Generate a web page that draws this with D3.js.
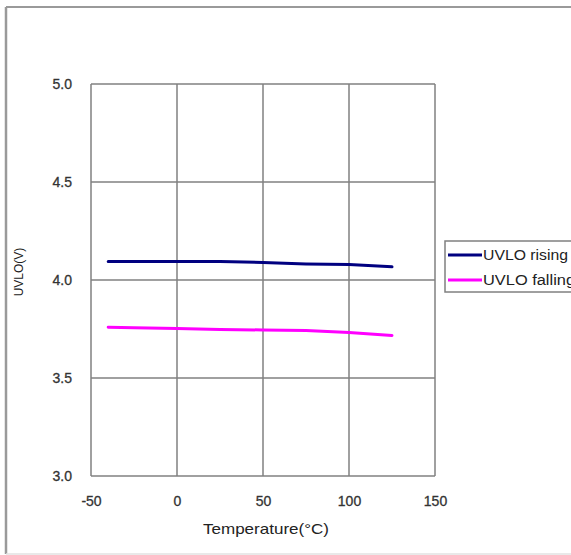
<!DOCTYPE html>
<html>
<head>
<meta charset="utf-8">
<script src="https://cdn.jsdelivr.net/npm/d3@7/dist/d3.min.js"></script>
<style>
  body { margin: 0; background: #fff; }
  svg { display: block; font-family: "Liberation Sans", Arial, sans-serif; }
</style>
</head>
<body>
<svg id="chart" width="571" height="555"></svg>
<script>
// Temperature sweep points (°C)
const temperatures = [-40, -25, 0, 25, 50, 75, 100, 125];
// UVLO thresholds (V)
const uvloRising  = [4.095, 4.095, 4.095, 4.095, 4.089, 4.082, 4.079, 4.067];
const uvloFalling = [3.759, 3.757, 3.752, 3.748, 3.745, 3.742, 3.732, 3.717];
const seriesNames = ["UVLO rising", "UVLO falling"];
const seriesColors = ["#000080", "#ff00ff"];
const xTicks = [-50, 0, 50, 100, 150];
const yTicks = [3.0, 3.5, 4.0, 4.5, 5.0];

const svg = d3.select("#chart");
const FONT = "Liberation Sans, Arial, sans-serif";

// outer frame: darker top/left edges, faint bottom edge
svg.append("line").attr("x1", 6).attr("x2", 571).attr("y1", 7).attr("y2", 7)
  .attr("stroke", "#9a9a9a").attr("stroke-width", 2);
svg.append("line").attr("x1", 6).attr("x2", 6).attr("y1", 7).attr("y2", 554)
  .attr("stroke", "#9a9a9a").attr("stroke-width", 2.5);
svg.append("line").attr("x1", 6).attr("x2", 571).attr("y1", 554).attr("y2", 554)
  .attr("stroke", "#e2e2e2").attr("stroke-width", 1.5);

const plot = { left: 91, right: 435, top: 84, bottom: 476 };
const x = d3.scaleLinear().domain([-50, 150]).range([plot.left, plot.right]);
const y = d3.scaleLinear().domain([3.0, 5.0]).range([plot.bottom, plot.top]);

// grid
const grid = svg.append("g").attr("stroke", "#808080").attr("stroke-width", 1.5);
grid.selectAll(".vx").data(xTicks).join("line")
  .attr("x1", d => x(d)).attr("x2", d => x(d))
  .attr("y1", plot.top).attr("y2", plot.bottom);
grid.selectAll(".hy").data(yTicks).join("line")
  .attr("x1", plot.left).attr("x2", plot.right)
  .attr("y1", d => y(d)).attr("y2", d => y(d));

// tick labels
const xAxis = d3.axisBottom(x).tickValues(xTicks).tickSize(0).tickPadding(20).tickFormat(d => String(d));
const gx = svg.append("g").attr("transform", `translate(0,${plot.bottom})`).call(xAxis);
gx.select(".domain").remove();
gx.selectAll("text").attr("font-size", 14).attr("fill", "#333")
  .attr("font-family", FONT).attr("stroke", "#333").attr("stroke-width", 0.3);

const yAxis = d3.axisLeft(y).tickValues(yTicks).tickSize(0).tickPadding(19).tickFormat(d3.format(".1f"));
const gy = svg.append("g").attr("transform", `translate(${plot.left},0)`).call(yAxis);
gy.select(".domain").remove();
gy.selectAll("text").attr("font-size", 14).attr("fill", "#333")
  .attr("font-family", FONT).attr("stroke", "#333").attr("stroke-width", 0.3);

// axis titles
svg.append("text").attr("x", 266).attr("y", 534).attr("text-anchor", "middle")
  .attr("font-size", 15).attr("fill", "#222")
  .attr("textLength", 126).attr("lengthAdjust", "spacingAndGlyphs")
  .text("Temperature(°C)");
svg.append("text").attr("transform", "translate(23,272) rotate(-90)").attr("text-anchor", "middle")
  .attr("font-size", 12).attr("fill", "#222").text("UVLO(V)");

// series lines
const line = d3.line().x((d, i) => x(temperatures[i])).y(d => y(d));
[uvloRising, uvloFalling].forEach((vals, k) => {
  svg.append("path").datum(vals)
    .attr("d", line).attr("fill", "none")
    .attr("stroke", seriesColors[k]).attr("stroke-width", 3)
    .attr("stroke-linecap", "round").attr("stroke-linejoin", "round");
});

// legend
const lg = svg.append("g");
lg.append("rect").attr("x", 445).attr("y", 241).attr("width", 140).attr("height", 51)
  .attr("fill", "#fff").attr("stroke", "#808080").attr("stroke-width", 1.5);
seriesNames.forEach((name, k) => {
  const ly = 255 + k * 25;
  lg.append("line").attr("x1", 448).attr("x2", 482).attr("y1", ly).attr("y2", ly)
    .attr("stroke", seriesColors[k]).attr("stroke-width", 3);
  lg.append("text").attr("x", 483).attr("y", ly + 5).attr("font-size", 14)
    .attr("fill", "#222").attr("textLength", k === 0 ? 85 : 92)
    .attr("lengthAdjust", "spacingAndGlyphs").text(name);
});
</script>
</body>
</html>
